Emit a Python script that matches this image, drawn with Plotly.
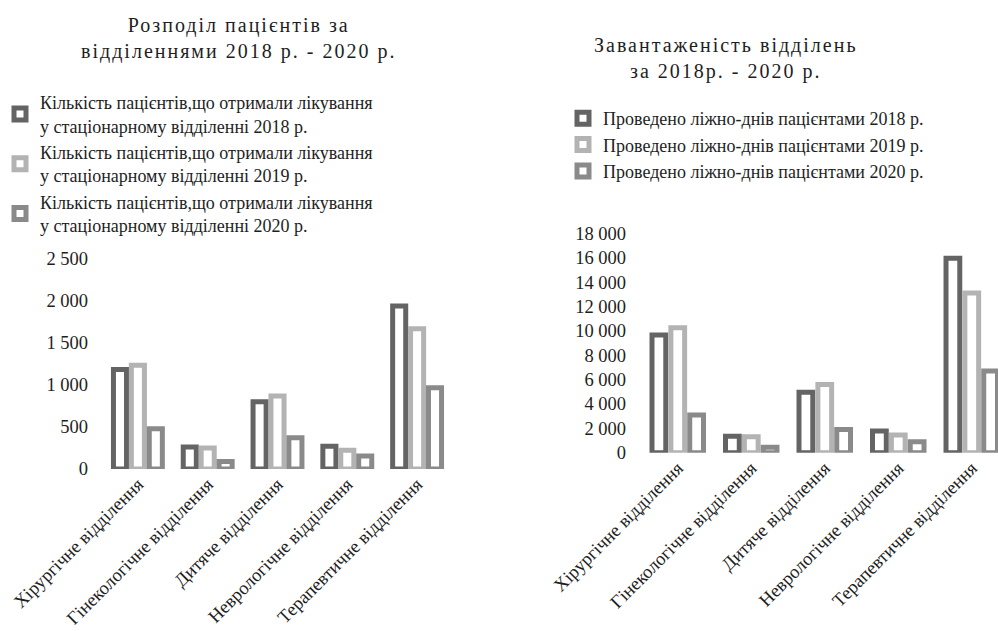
import plotly.graph_objects as go

categories = ["Хірургічне відділення", "Гінекологічне відділення", "Дитяче відділення",
              "Неврологічне відділення", "Терапевтичне відділення"]

patients_2018 = [1185, 262, 800, 272, 1940]
patients_2019 = [1235, 250, 868, 222, 1670]
patients_2020 = [480, 88, 372, 155, 968]

beddays_2018 = [9650, 1350, 4950, 1780, 15950]
beddays_2019 = [10250, 1300, 5600, 1450, 13100]
beddays_2020 = [3100, 450, 1900, 900, 6700]

left_names = [
    "Кількість пацієнтів,що отримали лікування<br>у стаціонарному відділенні 2018 р.",
    "Кількість пацієнтів,що отримали лікування<br>у стаціонарному відділенні 2019 р.",
    "Кількість пацієнтів,що отримали лікування<br>у стаціонарному відділенні 2020 р.",
]
right_names = [
    "Проведено ліжно-днів пацієнтами 2018 р.",
    "Проведено ліжно-днів пацієнтами 2019 р.",
    "Проведено ліжно-днів пацієнтами 2020 р.",
]
left_title = ["Розподіл пацієнтів за", "відділеннями 2018 р. - 2020 р."]
right_title = ["Завантаженість відділень", "за 2018р. - 2020 р."]
colors = ["#646464", "#b3b3b3", "#8a8a8a"]

FONT = "Liberation Serif, Tinos, 'Times New Roman', 'DejaVu Serif', serif"
TXT = "#1e1e1e"

fig = go.Figure()
for vals, name, col in zip([patients_2018, patients_2019, patients_2020], left_names, colors):
    fig.add_trace(go.Bar(x=categories, y=vals, name=name, xaxis="x", yaxis="y",
                         marker=dict(color="white", line=dict(color=col, width=5)),
                         legend="legend", hoverinfo="x+y"))
for vals, name, col in zip([beddays_2018, beddays_2019, beddays_2020], right_names, colors):
    fig.add_trace(go.Bar(x=categories, y=vals, name=name, xaxis="x2", yaxis="y2",
                         marker=dict(color="white", line=dict(color=col, width=5)),
                         legend="legend2", hoverinfo="x+y"))

W, H = 998, 631
def fx(px):
    return px / W
def fy(py):
    return 1 - py / H

def spaced(lines):
    return "<br>".join('<span style="letter-spacing:2px">%s</span>' % l for l in lines)

axis_common = dict(showgrid=False, zeroline=False, showline=False, ticks="",
                   automargin=False,
                   tickfont=dict(family=FONT, size=18.5, color=TXT))

fig.update_layout(
    width=W, height=H,
    margin=dict(l=0, r=0, t=0, b=0, autoexpand=False),
    paper_bgcolor="white", plot_bgcolor="white",
    separators=", ",
    barmode="group", bargap=0.23, bargroupgap=0.27,
    font=dict(family=FONT, size=18, color=TXT),
    xaxis=dict(domain=[fx(103), fx(452)], anchor="y", tickangle=-45,
               range=[-0.5, 4.5], **axis_common),
    yaxis=dict(domain=[fy(469), fy(259)], anchor="x", range=[0, 2500], dtick=500,
               tickformat=",d", ticklabelstandoff=14, **axis_common),
    xaxis2=dict(domain=[fx(641), 1.0], anchor="y2", tickangle=-45,
                range=[-0.5, 4.357], **axis_common),
    yaxis2=dict(domain=[fy(452.7), fy(233.3)], anchor="x2", range=[0, 18000], dtick=2000,
                tickformat=",d", ticklabelstandoff=14, **axis_common),
    legend=dict(x=fx(0), y=fy(84), xanchor="left", yanchor="top",
                font=dict(family=FONT, size=18, color=TXT), bgcolor="rgba(0,0,0,0)",
                tracegroupgap=0),
    legend2=dict(x=fx(563), y=fy(100), xanchor="left", yanchor="top",
                 font=dict(family=FONT, size=18, color=TXT), bgcolor="rgba(0,0,0,0)",
                 tracegroupgap=0),
    showlegend=True,
    annotations=[
        dict(text=spaced(left_title),
             x=fx(238), y=fy(12), xref="paper", yref="paper", xanchor="center", yanchor="top",
             showarrow=False, font=dict(family=FONT, size=20, color=TXT)),
        dict(text=spaced(right_title),
             x=fx(726), y=fy(32), xref="paper", yref="paper", xanchor="center", yanchor="top",
             showarrow=False, font=dict(family=FONT, size=20, color=TXT)),
    ],
)

fig.write_html("out.html")
